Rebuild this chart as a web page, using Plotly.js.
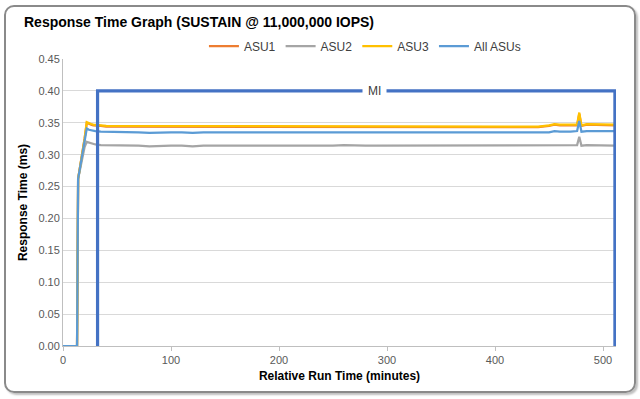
<!DOCTYPE html>
<html>
<head>
<meta charset="utf-8">
<script src="https://cdn.plot.ly/plotly-3.0.1.min.js"></script>
<style>
  html, body { margin: 0; padding: 0; background: #fff; }
  #wrap { position: relative; width: 640px; height: 399px; overflow: hidden; }
  #chart { position: absolute; left: 0; top: 0; width: 640px; height: 399px; }
  #frame { position: absolute; left: 4px; top: 5px; width: 628px; height: 384px;
           border: 2px solid #8a8a8a; border-radius: 10px; pointer-events: none;
           box-shadow: 2px 2px 2px rgba(0,0,0,0.25); }
</style>
</head>
<body>
<div id="wrap"><div id="chart"></div><div id="frame"></div></div>
<script>
// ---- data (minutes, ms) ----
var minutes = [0,13,14,16,18,20,22,24,26,28,30,35,40,
  50,60,70,80,90,100,110,120,130,140,150,160,170,180,190,200,210,220,230,240,250,260,270,280,290,300,
  310,320,330,340,350,360,370,380,390,400,410,420,430,440,450,
  455,460,470,476,478,480,485,490,500,511];

var asu1 = [0,0,0.262,0.281,0.300,0.325,0.350,0.348,0.347,0.346,0.346,0.345,0.344,
  0.344,0.343,0.344,0.343,0.343,0.344,0.343,0.343,0.344,0.343,0.343,0.344,0.343,0.344,0.343,0.343,0.344,0.344,0.343,0.344,0.344,0.343,0.344,0.343,0.344,0.344,
  0.343,0.344,0.343,0.344,0.344,0.343,0.344,0.343,0.344,0.344,0.343,0.344,0.344,0.343,0.345,
  0.347,0.346,0.346,0.346,0.364,0.345,0.347,0.347,0.346,0.346];

var asu2 = [0,0,0.262,0.280,0.298,0.312,0.320,0.319,0.318,0.317,0.316,0.315,0.315,
  0.314,0.314,0.314,0.313,0.314,0.314,0.314,0.313,0.314,0.314,0.314,0.313,0.314,0.314,0.314,0.314,0.314,0.313,0.314,0.314,0.314,0.315,0.314,0.314,0.314,0.314,
  0.314,0.314,0.314,0.314,0.314,0.315,0.314,0.314,0.314,0.314,0.314,0.314,0.314,0.314,0.314,
  0.315,0.314,0.315,0.315,0.328,0.314,0.315,0.315,0.314,0.314];

var asu3 = [0,0,0.262,0.281,0.300,0.325,0.351,0.349,0.348,0.347,0.347,0.346,0.345,
  0.345,0.344,0.345,0.344,0.344,0.345,0.344,0.344,0.345,0.344,0.344,0.345,0.344,0.345,0.344,0.344,0.345,0.345,0.344,0.345,0.345,0.344,0.345,0.344,0.345,0.345,
  0.344,0.345,0.344,0.345,0.345,0.344,0.345,0.344,0.345,0.345,0.344,0.345,0.345,0.344,0.346,
  0.348,0.347,0.347,0.347,0.366,0.346,0.348,0.348,0.347,0.347];

var allAsus = [0,0,0.262,0.281,0.300,0.320,0.341,0.339,0.338,0.337,0.337,0.336,0.336,
  0.335,0.335,0.335,0.334,0.335,0.335,0.335,0.334,0.335,0.335,0.335,0.334,0.335,0.335,0.335,0.335,0.335,0.335,0.335,0.335,0.335,0.335,0.335,0.335,0.335,0.335,
  0.335,0.335,0.335,0.335,0.335,0.335,0.335,0.335,0.335,0.335,0.335,0.335,0.335,0.335,0.335,
  0.337,0.336,0.336,0.337,0.353,0.336,0.337,0.337,0.337,0.337];

var miX = [32, 32, 511, 511];
var miY = [0, 0.40, 0.40, 0];
var miLabel = 'MI';

var seriesNames = ['ASU1','ASU2','ASU3','All ASUs'];
var seriesColors = ['#ED7D31','#A5A5A5','#FFC000','#5B9BD5'];
var seriesData = [asu1, asu2, asu3, allAsus];

var xTicks = [0,100,200,300,400,500];
var yTicks = [0,0.05,0.10,0.15,0.20,0.25,0.30,0.35,0.40,0.45];

var traces = seriesData.map(function(d, i) {
  return { x: minutes, y: d, type: 'scatter', mode: 'lines', name: seriesNames[i],
           line: { color: seriesColors[i], width: 2.25 }, hoverinfo: 'skip' };
});
traces.push({ x: miX, y: miY, type: 'scatter', mode: 'lines', showlegend: false,
  line: { color: '#4472C4', width: 3.2 }, hoverinfo: 'skip' });

var font = 'Liberation Sans, Arial, sans-serif';
var layout = {
  width: 640, height: 399,
  margin: { l: 63, r: 24, t: 59, b: 53 },
  paper_bgcolor: 'rgba(0,0,0,0)', plot_bgcolor: '#fff',
  font: { family: font, size: 11, color: '#595959' },
  title: { text: '<b>Response Time Graph (SUSTAIN @ 11,000,000 IOPS)</b>',
           font: { family: font, size: 14, color: '#000' },
           xref: 'container', yref: 'container', x: 24/640, xanchor: 'left',
           y: 1 - 22/399, yanchor: 'middle' },
  showlegend: true,
  legend: { orientation: 'h', x: 0.546, xanchor: 'center', y: 1.045, yanchor: 'middle',
            font: { family: font, size: 12, color: '#404040' }, itemwidth: 30,
            bgcolor: 'rgba(0,0,0,0)', traceorder: 'normal' },
  xaxis: { range: [0, 512], tickvals: xTicks, ticktext: xTicks.map(String),
           showgrid: false, zeroline: false, showline: true, linecolor: '#BFBFBF', linewidth: 1,
           ticks: 'outside', ticklen: 4, tickcolor: '#BFBFBF',
           tickfont: { family: font, size: 11, color: '#595959' },
           title: { text: '<b>Relative Run Time (minutes)</b>', standoff: 6,
                    font: { family: font, size: 12, color: '#000' } } },
  yaxis: { range: [0, 0.45], tickvals: yTicks, ticktext: yTicks.map(function(v){return v.toFixed(2);}),
           showgrid: true, gridcolor: '#D9D9D9', gridwidth: 1, zeroline: false,
           showline: true, linecolor: '#BFBFBF', linewidth: 1, ticks: '',
           tickfont: { family: font, size: 11, color: '#595959' },
           title: { text: '<b>Response Time (ms)</b>', standoff: 8,
                    font: { family: font, size: 12, color: '#000' } } },
  annotations: [{ x: 288, y: 0.40, xref: 'x', yref: 'y', text: miLabel, showarrow: false,
                  bgcolor: '#fff', font: { family: font, size: 12, color: '#404040' },
                  borderpad: 5 }]
};

Plotly.newPlot('chart', traces, layout, { staticPlot: true, displayModeBar: false });
</script>
</body>
</html>
